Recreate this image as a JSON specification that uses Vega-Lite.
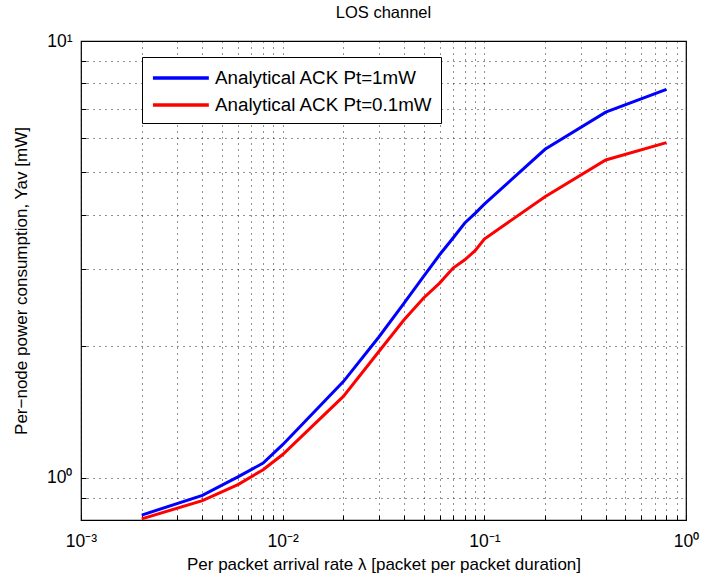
{
  "$schema": "https://vega.github.io/schema/vega-lite/v6.json",
  "autosize": "none",
  "width": 605,
  "height": 479,
  "padding": {"left": 81, "top": 41, "right": 19, "bottom": 58},
  "background": "white",
  "title": {"text": "LOS channel", "fontSize": 16.5, "fontWeight": "normal", "font": "Liberation Sans", "color": "black", "offset": 11},
  "config": {
    "font": "Liberation Sans",
    "view": {"stroke": "black", "strokeWidth": 1.2},
    "axis": {"domain": false, "labelColor": "black", "titleColor": "black", "labelFontSize": 17.5, "titleFontSize": 17, "titleFontWeight": "normal",
      "grid": true, "gridColor": "black", "gridDash": [1, 5], "gridOpacity": 0.85, "gridWidth": 1,
      "tickColor": "black", "tickSize": -5, "tickWidth": 1}
  },
  "data": {"values": [
    {"lambda": 0.002, "y": 0.821, "series": "Analytical ACK Pt=1mW"},
    {"lambda": 0.004, "y": 0.911, "series": "Analytical ACK Pt=1mW"},
    {"lambda": 0.006, "y": 1.004, "series": "Analytical ACK Pt=1mW"},
    {"lambda": 0.008, "y": 1.08, "series": "Analytical ACK Pt=1mW"},
    {"lambda": 0.01, "y": 1.19, "series": "Analytical ACK Pt=1mW"},
    {"lambda": 0.02, "y": 1.66, "series": "Analytical ACK Pt=1mW"},
    {"lambda": 0.03, "y": 2.10, "series": "Analytical ACK Pt=1mW"},
    {"lambda": 0.04, "y": 2.51, "series": "Analytical ACK Pt=1mW"},
    {"lambda": 0.05, "y": 2.89, "series": "Analytical ACK Pt=1mW"},
    {"lambda": 0.06, "y": 3.24, "series": "Analytical ACK Pt=1mW"},
    {"lambda": 0.07, "y": 3.54, "series": "Analytical ACK Pt=1mW"},
    {"lambda": 0.08, "y": 3.83, "series": "Analytical ACK Pt=1mW"},
    {"lambda": 0.09, "y": 4.03, "series": "Analytical ACK Pt=1mW"},
    {"lambda": 0.1, "y": 4.23, "series": "Analytical ACK Pt=1mW"},
    {"lambda": 0.2, "y": 5.65, "series": "Analytical ACK Pt=1mW"},
    {"lambda": 0.4, "y": 6.87, "series": "Analytical ACK Pt=1mW"},
    {"lambda": 0.8, "y": 7.75, "series": "Analytical ACK Pt=1mW"},
    {"lambda": 0.002, "y": 0.805, "series": "Analytical ACK Pt=0.1mW"},
    {"lambda": 0.004, "y": 0.886, "series": "Analytical ACK Pt=0.1mW"},
    {"lambda": 0.006, "y": 0.964, "series": "Analytical ACK Pt=0.1mW"},
    {"lambda": 0.008, "y": 1.043, "series": "Analytical ACK Pt=0.1mW"},
    {"lambda": 0.01, "y": 1.13, "series": "Analytical ACK Pt=0.1mW"},
    {"lambda": 0.02, "y": 1.535, "series": "Analytical ACK Pt=0.1mW"},
    {"lambda": 0.03, "y": 1.945, "series": "Analytical ACK Pt=0.1mW"},
    {"lambda": 0.04, "y": 2.30, "series": "Analytical ACK Pt=0.1mW"},
    {"lambda": 0.05, "y": 2.58, "series": "Analytical ACK Pt=0.1mW"},
    {"lambda": 0.06, "y": 2.79, "series": "Analytical ACK Pt=0.1mW"},
    {"lambda": 0.07, "y": 3.02, "series": "Analytical ACK Pt=0.1mW"},
    {"lambda": 0.08, "y": 3.155, "series": "Analytical ACK Pt=0.1mW"},
    {"lambda": 0.09, "y": 3.31, "series": "Analytical ACK Pt=0.1mW"},
    {"lambda": 0.1, "y": 3.52, "series": "Analytical ACK Pt=0.1mW"},
    {"lambda": 0.2, "y": 4.40, "series": "Analytical ACK Pt=0.1mW"},
    {"lambda": 0.4, "y": 5.34, "series": "Analytical ACK Pt=0.1mW"},
    {"lambda": 0.8, "y": 5.85, "series": "Analytical ACK Pt=0.1mW"}
  ]},
  "mark": {"type": "line", "strokeWidth": 3, "clip": true},
  "encoding": {
    "x": {"field": "lambda", "type": "quantitative",
      "scale": {"type": "log", "domain": [0.001, 1], "nice": false},
      "axis": {"title": "Per packet arrival rate λ [packet per packet duration]",
        "values": [0.001,0.002,0.003,0.004,0.005,0.006,0.007,0.008,0.009,0.01,0.02,0.03,0.04,0.05,0.06,0.07,0.08,0.09,0.1,0.2,0.3,0.4,0.5,0.6,0.7,0.8,0.9,1],
        "labelExpr": "datum.value == 0.001 ? '10⁻³' : datum.value == 0.01 ? '10⁻²' : datum.value == 0.1 ? '10⁻¹' : datum.value == 1 ? '10⁰' : ''",
        "labelPadding": 17, "titlePadding": 7, "labelFlush": false, "labelOverlap": false}},
    "y": {"field": "y", "type": "quantitative",
      "scale": {"type": "log", "domain": [0.8, 10], "nice": false},
      "axis": {"title": "Per−node power consumption, Yav [mW]",
        "values": [0.8,0.9,1,2,3,4,5,6,7,8,9,10],
        "labelExpr": "datum.value == 1 ? '10⁰' : datum.value == 10 ? '10¹' : ''",
        "labelPadding": 14, "titlePadding": 16, "labelFlush": false, "labelOverlap": false}},
    "color": {"field": "series", "type": "nominal",
      "scale": {"domain": ["Analytical ACK Pt=1mW", "Analytical ACK Pt=0.1mW"], "range": ["#0000ff", "#ff0000"]},
      "legend": {"title": null, "orient": "none", "legendX": 61, "legendY": 16,
        "strokeColor": "black", "fillColor": "white", "padding": 8,
        "symbolType": "M-0.9,0H4.1", "symbolSize": 500, "symbolStrokeWidth": 3.5,
        "labelFontSize": 18.8, "labelLimit": 400, "labelColor": "black", "rowPadding": 4, "labelOffset": 39}}
  }
}
